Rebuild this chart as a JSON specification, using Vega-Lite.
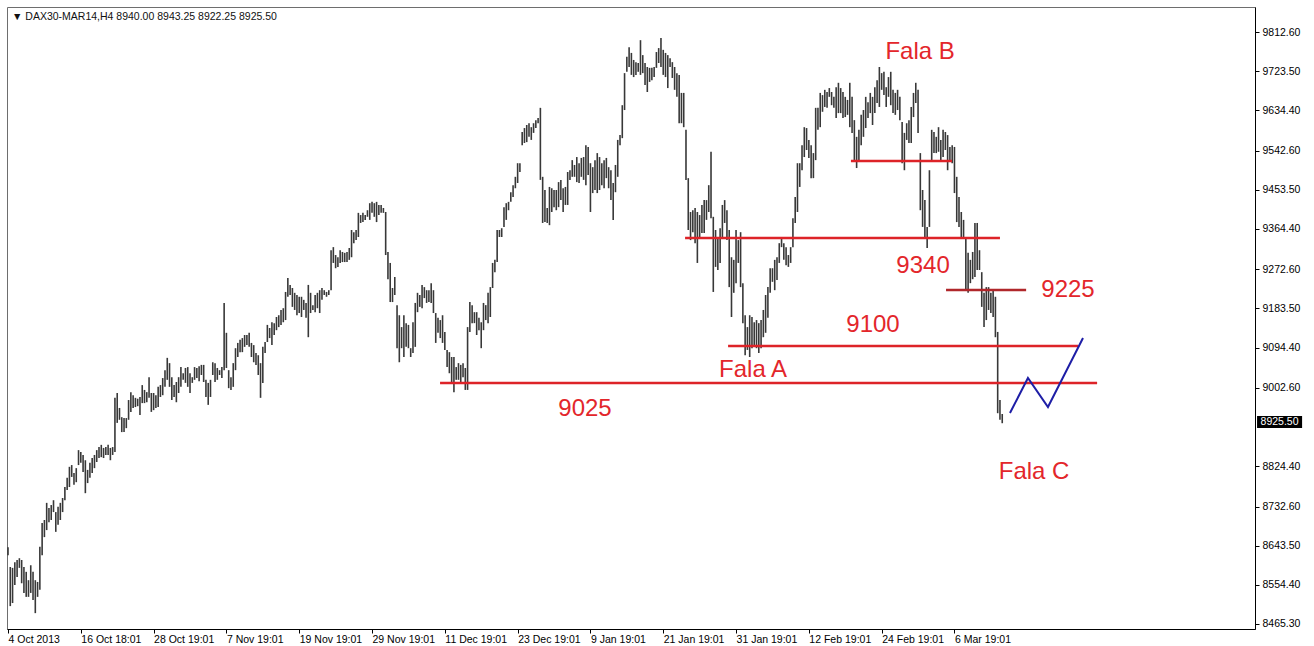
{
"$schema":"https://vega.github.io/schema/vega-lite/v6.json",
"width":1248,"height":622,
"autosize":{"type":"none"},
"padding":{"left":7,"top":7,"right":59,"bottom":17},
"background":"white",
"config":{"view":{"stroke":"#6e6e6e","strokeWidth":1},"font":"Liberation Sans"},
"datasets":{
"bars":[
{"i":0,"h":8640,"l":8622},{"i":1,"h":8595,"l":8506},{"i":2,"h":8593,"l":8513},{"i":3,"h":8606,"l":8554},{"i":4,"h":8611,"l":8572},{"i":5,"h":8615,"l":8593},{"i":6,"h":8611,"l":8558},{"i":7,"h":8595,"l":8536},{"i":8,"h":8584,"l":8527},{"i":9,"h":8565,"l":8527},
{"i":10,"h":8599,"l":8536},{"i":11,"h":8584,"l":8520},{"i":12,"h":8565,"l":8490},{"i":13,"h":8561,"l":8527},{"i":14,"h":8641,"l":8543},{"i":15,"h":8695,"l":8622},{"i":16,"h":8702,"l":8663},{"i":17,"h":8741,"l":8679},{"i":18,"h":8729,"l":8697},{"i":19,"h":8736,"l":8702},
{"i":20,"h":8747,"l":8720},{"i":21,"h":8720,"l":8675},{"i":22,"h":8732,"l":8691},{"i":23,"h":8741,"l":8702},{"i":24,"h":8752,"l":8720},{"i":25,"h":8777,"l":8747},{"i":26,"h":8798,"l":8770},{"i":27,"h":8823,"l":8777},{"i":28,"h":8827,"l":8800},{"i":29,"h":8809,"l":8782},
{"i":30,"h":8820,"l":8788},{"i":31,"h":8861,"l":8827},{"i":32,"h":8857,"l":8832},{"i":33,"h":8850,"l":8811},{"i":34,"h":8838,"l":8763},{"i":35,"h":8816,"l":8786},{"i":36,"h":8832,"l":8798},{"i":37,"h":8843,"l":8809},{"i":38,"h":8850,"l":8820},{"i":39,"h":8861,"l":8834},
{"i":40,"h":8868,"l":8843},{"i":41,"h":8873,"l":8845},{"i":42,"h":8866,"l":8843},{"i":43,"h":8868,"l":8850},{"i":44,"h":8873,"l":8850},{"i":45,"h":8866,"l":8838},{"i":46,"h":8868,"l":8850},{"i":47,"h":8980,"l":8857},{"i":48,"h":8991,"l":8923},{"i":49,"h":8957,"l":8930},
{"i":50,"h":8936,"l":8902},{"i":51,"h":8934,"l":8902},{"i":52,"h":8934,"l":8911},{"i":53,"h":8975,"l":8930},{"i":54,"h":8993,"l":8948},{"i":55,"h":8986,"l":8957},{"i":56,"h":8980,"l":8959},{"i":57,"h":8978,"l":8961},{"i":58,"h":8982,"l":8941},{"i":59,"h":9009,"l":8968},
{"i":60,"h":8998,"l":8968},{"i":61,"h":8993,"l":8970},{"i":62,"h":9027,"l":8980},{"i":63,"h":8991,"l":8948},{"i":64,"h":8991,"l":8952},{"i":65,"h":8986,"l":8957},{"i":66,"h":9005,"l":8959},{"i":67,"h":9009,"l":8982},{"i":68,"h":9025,"l":8986},{"i":69,"h":9043,"l":9005},
{"i":70,"h":9071,"l":9021},{"i":71,"h":9059,"l":9005},{"i":72,"h":9027,"l":8975},{"i":73,"h":9009,"l":8982},{"i":74,"h":9016,"l":8970},{"i":75,"h":9027,"l":8991},{"i":76,"h":9050,"l":9005},{"i":77,"h":9036,"l":9021},{"i":78,"h":9048,"l":9014},{"i":79,"h":9050,"l":9005},
{"i":80,"h":9036,"l":8991},{"i":81,"h":9027,"l":9014},{"i":82,"h":9050,"l":9021},{"i":83,"h":9048,"l":9025},{"i":84,"h":9052,"l":9018},{"i":85,"h":9055,"l":9032},{"i":86,"h":9055,"l":9016},{"i":87,"h":9021,"l":8982},{"i":88,"h":9014,"l":8964},{"i":89,"h":9021,"l":8982},
{"i":90,"h":9061,"l":9032},{"i":91,"h":9059,"l":9016},{"i":92,"h":9048,"l":9021},{"i":93,"h":9043,"l":9032},{"i":94,"h":9050,"l":9025},{"i":95,"h":9196,"l":9043},{"i":96,"h":9128,"l":9048},{"i":97,"h":9043,"l":9002},{"i":98,"h":9027,"l":8998},{"i":99,"h":9059,"l":9005},
{"i":100,"h":9093,"l":9043},{"i":101,"h":9105,"l":9073},{"i":102,"h":9112,"l":9084},{"i":103,"h":9116,"l":9084},{"i":104,"h":9123,"l":9096},{"i":105,"h":9123,"l":9100},{"i":106,"h":9128,"l":9096},{"i":107,"h":9105,"l":9073},{"i":108,"h":9100,"l":9061},{"i":109,"h":9082,"l":9055},
{"i":110,"h":9077,"l":9032},{"i":111,"h":9059,"l":8980},{"i":112,"h":9096,"l":9014},{"i":113,"h":9107,"l":9082},{"i":114,"h":9146,"l":9107},{"i":115,"h":9139,"l":9116},{"i":116,"h":9152,"l":9100},{"i":117,"h":9150,"l":9123},{"i":118,"h":9164,"l":9134},{"i":119,"h":9168,"l":9141},
{"i":120,"h":9180,"l":9146},{"i":121,"h":9184,"l":9152},{"i":122,"h":9221,"l":9157},{"i":123,"h":9253,"l":9210},{"i":124,"h":9237,"l":9214},{"i":125,"h":9230,"l":9187},{"i":126,"h":9219,"l":9180},{"i":127,"h":9214,"l":9168},{"i":128,"h":9210,"l":9173},{"i":129,"h":9210,"l":9164},
{"i":130,"h":9203,"l":9180},{"i":131,"h":9196,"l":9162},{"i":132,"h":9237,"l":9118},{"i":133,"h":9219,"l":9173},{"i":134,"h":9191,"l":9180},{"i":135,"h":9214,"l":9175},{"i":136,"h":9219,"l":9184},{"i":137,"h":9225,"l":9173},{"i":138,"h":9230,"l":9203},{"i":139,"h":9225,"l":9214},
{"i":140,"h":9221,"l":9210},{"i":141,"h":9225,"l":9214},{"i":142,"h":9316,"l":9225},{"i":143,"h":9323,"l":9287},{"i":144,"h":9305,"l":9275},{"i":145,"h":9300,"l":9278},{"i":146,"h":9316,"l":9287},{"i":147,"h":9312,"l":9289},{"i":148,"h":9310,"l":9289},{"i":149,"h":9312,"l":9289},
{"i":150,"h":9321,"l":9294},{"i":151,"h":9362,"l":9300},{"i":152,"h":9357,"l":9332},{"i":153,"h":9362,"l":9339},{"i":154,"h":9401,"l":9346},{"i":155,"h":9396,"l":9378},{"i":156,"h":9401,"l":9380},{"i":157,"h":9396,"l":9385},{"i":158,"h":9407,"l":9392},{"i":159,"h":9423,"l":9385},
{"i":160,"h":9426,"l":9401},{"i":161,"h":9423,"l":9392},{"i":162,"h":9426,"l":9380},{"i":163,"h":9419,"l":9396},{"i":164,"h":9419,"l":9401},{"i":165,"h":9412,"l":9401},{"i":166,"h":9403,"l":9305},{"i":167,"h":9312,"l":9250},{"i":168,"h":9287,"l":9198},{"i":169,"h":9230,"l":9198},
{"i":170,"h":9255,"l":9214},{"i":171,"h":9191,"l":9093},{"i":172,"h":9168,"l":9061},{"i":173,"h":9141,"l":9093},{"i":174,"h":9168,"l":9073},{"i":175,"h":9150,"l":9096},{"i":176,"h":9146,"l":9093},{"i":177,"h":9093,"l":9073},{"i":178,"h":9152,"l":9082},{"i":179,"h":9196,"l":9096},
{"i":180,"h":9219,"l":9175},{"i":181,"h":9214,"l":9187},{"i":182,"h":9237,"l":9184},{"i":183,"h":9232,"l":9207},{"i":184,"h":9225,"l":9196},{"i":185,"h":9225,"l":9198},{"i":186,"h":9241,"l":9196},{"i":187,"h":9225,"l":9173},{"i":188,"h":9173,"l":9105},{"i":189,"h":9162,"l":9128},
{"i":190,"h":9157,"l":9116},{"i":191,"h":9168,"l":9105},{"i":192,"h":9130,"l":9089},{"i":193,"h":9089,"l":9050},{"i":194,"h":9084,"l":9036},{"i":195,"h":9073,"l":9016},{"i":196,"h":9073,"l":8993},{"i":197,"h":9050,"l":9021},{"i":198,"h":9059,"l":9021},{"i":199,"h":9055,"l":9014},
{"i":200,"h":9059,"l":9027},{"i":201,"h":9048,"l":8998},{"i":202,"h":9141,"l":8998},{"i":203,"h":9198,"l":9130},{"i":204,"h":9191,"l":9150},{"i":205,"h":9175,"l":9150},{"i":206,"h":9175,"l":9123},{"i":207,"h":9162,"l":9134},{"i":208,"h":9152,"l":9093},{"i":209,"h":9196,"l":9134},
{"i":210,"h":9191,"l":9157},{"i":211,"h":9219,"l":9150},{"i":212,"h":9232,"l":9164},{"i":213,"h":9287,"l":9230},{"i":214,"h":9294,"l":9266},{"i":215,"h":9362,"l":9289},{"i":216,"h":9362,"l":9346},{"i":217,"h":9366,"l":9346},{"i":218,"h":9414,"l":9369},{"i":219,"h":9423,"l":9385},
{"i":220,"h":9426,"l":9407},{"i":221,"h":9448,"l":9426},{"i":222,"h":9464,"l":9437},{"i":223,"h":9483,"l":9457},{"i":224,"h":9514,"l":9469},{"i":225,"h":9514,"l":9494},{"i":226,"h":9585,"l":9555},{"i":227,"h":9594,"l":9560},{"i":228,"h":9601,"l":9562},{"i":229,"h":9605,"l":9574},
{"i":230,"h":9596,"l":9567},{"i":231,"h":9605,"l":9583},{"i":232,"h":9612,"l":9594},{"i":233,"h":9617,"l":9605},{"i":234,"h":9640,"l":9476},{"i":235,"h":9483,"l":9378},{"i":236,"h":9453,"l":9380},{"i":237,"h":9412,"l":9378},{"i":238,"h":9460,"l":9373},{"i":239,"h":9457,"l":9403},
{"i":240,"h":9453,"l":9414},{"i":241,"h":9453,"l":9407},{"i":242,"h":9471,"l":9414},{"i":243,"h":9476,"l":9430},{"i":244,"h":9457,"l":9403},{"i":245,"h":9460,"l":9419},{"i":246,"h":9494,"l":9419},{"i":247,"h":9498,"l":9476},{"i":248,"h":9521,"l":9483},{"i":249,"h":9510,"l":9483},
{"i":250,"h":9528,"l":9471},{"i":251,"h":9514,"l":9469},{"i":252,"h":9526,"l":9483},{"i":253,"h":9528,"l":9476},{"i":254,"h":9555,"l":9464},{"i":255,"h":9551,"l":9487},{"i":256,"h":9514,"l":9403},{"i":257,"h":9505,"l":9446},{"i":258,"h":9521,"l":9453},{"i":259,"h":9537,"l":9446},
{"i":260,"h":9528,"l":9453},{"i":261,"h":9514,"l":9464},{"i":262,"h":9521,"l":9457},{"i":263,"h":9526,"l":9480},{"i":264,"h":9505,"l":9457},{"i":265,"h":9498,"l":9430},{"i":266,"h":9469,"l":9385},{"i":267,"h":9510,"l":9448},{"i":268,"h":9567,"l":9483},{"i":269,"h":9578,"l":9555},
{"i":270,"h":9646,"l":9571},{"i":271,"h":9719,"l":9635},{"i":272,"h":9756,"l":9722},{"i":273,"h":9778,"l":9733},{"i":274,"h":9765,"l":9715},{"i":275,"h":9749,"l":9710},{"i":276,"h":9744,"l":9715},{"i":277,"h":9742,"l":9722},{"i":278,"h":9794,"l":9715},{"i":279,"h":9760,"l":9719},
{"i":280,"h":9742,"l":9692},{"i":281,"h":9733,"l":9676},{"i":282,"h":9731,"l":9699},{"i":283,"h":9731,"l":9703},{"i":284,"h":9733,"l":9710},{"i":285,"h":9767,"l":9731},{"i":286,"h":9776,"l":9742},{"i":287,"h":9799,"l":9733},{"i":288,"h":9772,"l":9715},{"i":289,"h":9765,"l":9710},
{"i":290,"h":9760,"l":9685},{"i":291,"h":9753,"l":9733},{"i":292,"h":9744,"l":9708},{"i":293,"h":9733,"l":9681},{"i":294,"h":9719,"l":9665},{"i":295,"h":9715,"l":9605},{"i":296,"h":9674,"l":9605},{"i":297,"h":9674,"l":9596},{"i":298,"h":9590,"l":9476},{"i":299,"h":9480,"l":9362},
{"i":300,"h":9403,"l":9339},{"i":301,"h":9407,"l":9357},{"i":302,"h":9412,"l":9332},{"i":303,"h":9403,"l":9287},{"i":304,"h":9396,"l":9346},{"i":305,"h":9419,"l":9355},{"i":306,"h":9430,"l":9355},{"i":307,"h":9430,"l":9385},{"i":308,"h":9464,"l":9403},{"i":309,"h":9540,"l":9389},
{"i":310,"h":9392,"l":9221},{"i":311,"h":9362,"l":9278},{"i":312,"h":9344,"l":9271},{"i":313,"h":9366,"l":9287},{"i":314,"h":9419,"l":9346},{"i":315,"h":9430,"l":9378},{"i":316,"h":9407,"l":9339},{"i":317,"h":9362,"l":9232},{"i":318,"h":9300,"l":9164},{"i":319,"h":9294,"l":9219},
{"i":320,"h":9362,"l":9241},{"i":321,"h":9339,"l":9287},{"i":322,"h":9357,"l":9232},{"i":323,"h":9241,"l":9150},{"i":324,"h":9168,"l":9077},{"i":325,"h":9141,"l":9089},{"i":326,"h":9168,"l":9073},{"i":327,"h":9164,"l":9093},{"i":328,"h":9152,"l":9100},{"i":329,"h":9157,"l":9093},
{"i":330,"h":9150,"l":9082},{"i":331,"h":9157,"l":9093},{"i":332,"h":9180,"l":9118},{"i":333,"h":9214,"l":9128},{"i":334,"h":9232,"l":9162},{"i":335,"h":9275,"l":9219},{"i":336,"h":9275,"l":9244},{"i":337,"h":9294,"l":9225},{"i":338,"h":9300,"l":9248},{"i":339,"h":9332,"l":9287},
{"i":340,"h":9346,"l":9323},{"i":341,"h":9332,"l":9294},{"i":342,"h":9323,"l":9282},{"i":343,"h":9305,"l":9278},{"i":344,"h":9323,"l":9287},{"i":345,"h":9389,"l":9323},{"i":346,"h":9437,"l":9378},{"i":347,"h":9514,"l":9403},{"i":348,"h":9514,"l":9460},{"i":349,"h":9555,"l":9498},
{"i":350,"h":9596,"l":9528},{"i":351,"h":9594,"l":9544},{"i":352,"h":9567,"l":9526},{"i":353,"h":9555,"l":9480},{"i":354,"h":9537,"l":9480},{"i":355,"h":9640,"l":9521},{"i":356,"h":9640,"l":9590},{"i":357,"h":9674,"l":9596},{"i":358,"h":9669,"l":9631},{"i":359,"h":9681,"l":9642},
{"i":360,"h":9676,"l":9640},{"i":361,"h":9685,"l":9665},{"i":362,"h":9676,"l":9646},{"i":363,"h":9665,"l":9640},{"i":364,"h":9687,"l":9617},{"i":365,"h":9697,"l":9628},{"i":366,"h":9685,"l":9628},{"i":367,"h":9676,"l":9617},{"i":368,"h":9665,"l":9619},{"i":369,"h":9658,"l":9624},
{"i":370,"h":9697,"l":9596},{"i":371,"h":9665,"l":9583},{"i":372,"h":9612,"l":9521},{"i":373,"h":9574,"l":9503},{"i":374,"h":9590,"l":9521},{"i":375,"h":9624,"l":9555},{"i":376,"h":9635,"l":9574},{"i":377,"h":9665,"l":9594},{"i":378,"h":9653,"l":9617},{"i":379,"h":9674,"l":9628},
{"i":380,"h":9665,"l":9601},{"i":381,"h":9687,"l":9628},{"i":382,"h":9703,"l":9651},{"i":383,"h":9733,"l":9642},{"i":384,"h":9719,"l":9681},{"i":385,"h":9722,"l":9669},{"i":386,"h":9687,"l":9642},{"i":387,"h":9710,"l":9665},{"i":388,"h":9722,"l":9646},{"i":389,"h":9681,"l":9628},
{"i":390,"h":9674,"l":9624},{"i":391,"h":9681,"l":9635},{"i":392,"h":9665,"l":9612},{"i":393,"h":9608,"l":9514},{"i":394,"h":9583,"l":9498},{"i":395,"h":9605,"l":9567},{"i":396,"h":9612,"l":9560},{"i":397,"h":9642,"l":9560},{"i":398,"h":9674,"l":9619},{"i":399,"h":9697,"l":9651},
{"i":400,"h":9681,"l":9583},{"i":401,"h":9537,"l":9407},{"i":402,"h":9453,"l":9369},{"i":403,"h":9430,"l":9346},{"i":404,"h":9369,"l":9321},{"i":405,"h":9498,"l":9369},{"i":406,"h":9590,"l":9517},{"i":407,"h":9585,"l":9537},{"i":408,"h":9574,"l":9537},{"i":409,"h":9596,"l":9540},
{"i":410,"h":9567,"l":9521},{"i":411,"h":9590,"l":9528},{"i":412,"h":9585,"l":9544},{"i":413,"h":9578,"l":9498},{"i":414,"h":9551,"l":9517},{"i":415,"h":9555,"l":9514},{"i":416,"h":9551,"l":9446},{"i":417,"h":9483,"l":9380},{"i":418,"h":9437,"l":9369},{"i":419,"h":9403,"l":9346},
{"i":420,"h":9385,"l":9346},{"i":421,"h":9346,"l":9225},{"i":422,"h":9310,"l":9219},{"i":423,"h":9294,"l":9241},{"i":424,"h":9312,"l":9250},{"i":425,"h":9378,"l":9255},{"i":426,"h":9378,"l":9271},{"i":427,"h":9316,"l":9271},{"i":428,"h":9266,"l":9187},{"i":429,"h":9219,"l":9141},
{"i":430,"h":9232,"l":9157},{"i":431,"h":9232,"l":9180},{"i":432,"h":9219,"l":9173},{"i":433,"h":9225,"l":9164},{"i":434,"h":9210,"l":9118},{"i":435,"h":9130,"l":8945},{"i":436,"h":8975,"l":8930},{"i":437,"h":8943.25,"l":8922.25}
],
"levels":[
{"i0":189.9,"i1":478.7,"p":9013.8},
{"i0":316.5,"i1":470.3,"p":9097.9},
{"i0":297.6,"i1":436.0,"p":9343.8},
{"i0":370.5,"i1":414.9,"p":9519.0}
],
"level2":[
{"i0":412.3,"i1":447.5,"p":9225.4}
],
"wave":[
{"i":440.4,"p":8945.5},{"i":448.3,"p":9025.1},{"i":457.1,"p":8959.1},{"i":472.5,"p":9116.2}
],
"notes":[
{"i":400.9,"p":9767.1,"t":"Fala B"},
{"i":402.2,"p":9280.0,"t":"9340"},
{"i":465.9,"p":9225.4,"t":"9225"},
{"i":380.2,"p":9145.8,"t":"9100"},
{"i":327.5,"p":9043.3,"t":"Fala A"},
{"i":253.6,"p":8954.6,"t":"9025"},
{"i":451.0,"p":8811.2,"t":"Fala C"}
]
},
"layer":[
{"data":{"name":"bars"},
 "mark":{"type":"rule","color":"#383838","strokeWidth":1.6},
 "encoding":{
  "x":{"field":"i","type":"quantitative","title":null,
   "scale":{"domain":[-0.44,548.1],"nice":false,"zero":false},
   "axis":{"orient":"bottom","values":[0,32,64,96,128,160,192,224,256,288,320,352,384,416],
    "labelExpr":"['4 Oct 2013','16 Oct 18:01','28 Oct 19:01','7 Nov 19:01','19 Nov 19:01','29 Nov 19:01','11 Dec 19:01','23 Dec 19:01','9 Jan 19:01','21 Jan 19:01','31 Jan 19:01','12 Feb 19:01','24 Feb 19:01','6 Mar 19:01'][round(datum.value/32)]",
    "grid":false,"domainColor":"#000","tickColor":"#000","tickSize":4,"labelAlign":"left","labelBaseline":"top","labelPadding":1,"labelFontSize":10.5,"labelColor":"#000","labelFlush":false,"labelOverlap":false,"labelBound":false,"title":null}},
  "y":{"field":"h","type":"quantitative","title":null,
   "scale":{"domain":[8453.9,9869.5],"nice":false,"zero":false},
   "axis":{"orient":"right","values":[8465.3,8554.4,8643.5,8732.6,8824.4,9002.6,9094.4,9183.5,9272.6,9364.4,9453.5,9542.6,9634.4,9723.5,9812.6],
    "format":".2f","grid":false,"domainColor":"#000","tickColor":"#000","tickSize":4,"labelPadding":3,"labelFontSize":10.5,"labelColor":"#000","labelFlush":false,"labelOverlap":false,"title":null}},
  "y2":{"field":"l"}
 }},
{"data":{"name":"levels"},
 "mark":{"type":"rule","color":"#dd2328","strokeWidth":2.5},
 "encoding":{"x":{"field":"i0","type":"quantitative","title":null},"x2":{"field":"i1"},"y":{"field":"p","type":"quantitative","title":null}}},
{"data":{"name":"level2"},
 "mark":{"type":"rule","color":"#b0272b","strokeWidth":2.5},
 "encoding":{"x":{"field":"i0","type":"quantitative","title":null},"x2":{"field":"i1"},"y":{"field":"p","type":"quantitative","title":null}}},
{"data":{"name":"wave"},
 "mark":{"type":"line","color":"#1e1ea6","strokeWidth":2},
 "encoding":{"x":{"field":"i","type":"quantitative","title":null},"y":{"field":"p","type":"quantitative","title":null},"order":{"field":"i"}}},
{"data":{"name":"notes"},
 "mark":{"type":"text","color":"#e3262b","fontSize":24,"font":"Liberation Sans","align":"center","baseline":"middle"},
 "encoding":{"x":{"field":"i","type":"quantitative","title":null},"y":{"field":"p","type":"quantitative","title":null},"text":{"field":"t"}}},
{"data":{"values":[{"t":"▼ DAX30-MAR14,H4  8940.00 8943.25 8922.25 8925.50"}]},
 "mark":{"type":"text","color":"#111","fontSize":10.5,"align":"left","baseline":"middle"},
 "encoding":{"x":{"datum":1.76,"type":"quantitative"},"y":{"datum":9846.7,"type":"quantitative"},"text":{"field":"t"}}},
{"data":{"values":[{"p":8925.5}]},
 "mark":{"type":"rect","color":"#000"},
 "encoding":{"x":{"datum":549.0,"type":"quantitative"},"x2":{"datum":568.8},"y":{"datum":8938.6,"type":"quantitative"},"y2":{"datum":8911.3}}},
{"data":{"values":[{"p":8925.5,"t":"8925.50"}]},
 "mark":{"type":"text","color":"#fff","fontSize":10.5,"align":"center","baseline":"middle"},
 "encoding":{"x":{"datum":558.9,"type":"quantitative"},"y":{"field":"p","type":"quantitative","title":null},"text":{"field":"t"}}}
]
}
